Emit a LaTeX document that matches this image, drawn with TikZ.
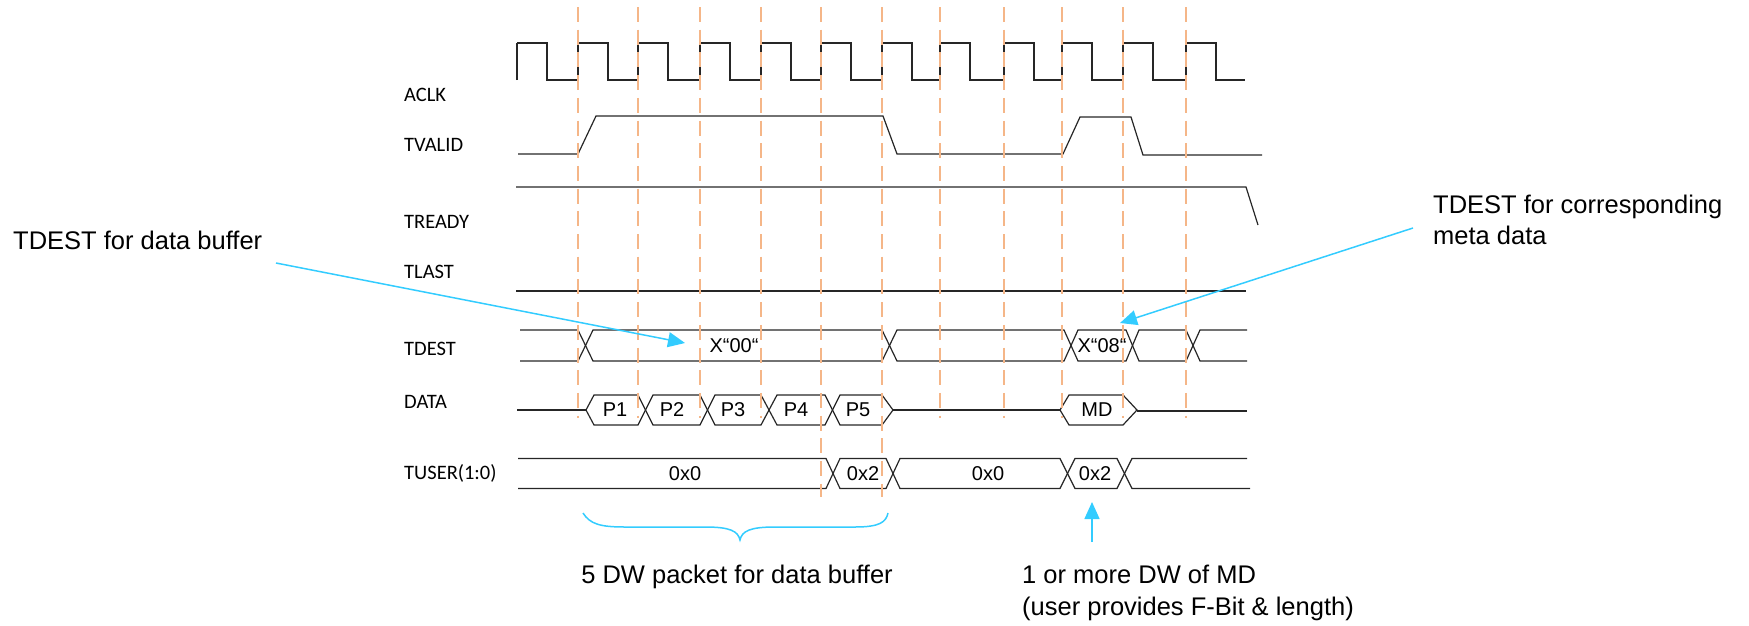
\documentclass[tikz,border=0pt]{standalone}
\usepackage{fontspec}
\setmainfont{Liberation Sans}
\newfontfamily\calfont{Carlito}
\usetikzlibrary{arrows.meta}
\definecolor{guide}{RGB}{245,182,136}
\definecolor{anno}{RGB}{51,204,255}
\begin{document}
\begin{tikzpicture}[x=1pt,y=-1pt,
  wave/.style={line width=1.2pt, black!85, line join=miter},
  guideline/.style={guide, line width=1.8pt, dash pattern=on 15pt off 7.7pt},
  siglabel/.style={font=\calfont\fontsize{20.5}{24}\selectfont, anchor=west, inner sep=0pt},
  vallabel/.style={font=\fontsize{20}{23}\selectfont, inner sep=0pt},
  annotext/.style={font=\fontsize{25.5}{31.5}\selectfont, inner sep=0pt, align=left},
  annoline/.style={anno, line width=1.5pt, -{Triangle[length=17pt,width=15pt]}},
]
\useasboundingbox (0,0) rectangle (1749,625);

% signal names
\node[siglabel] (lclk) at (404,95) {ACLK};
\node[siglabel] (lvalid) at (404,145) {TVALID};
\node[siglabel] (lready) at (404,221.5) {TREADY};
\node[siglabel] (llast) at (404,271.5) {TLAST};
\node[siglabel] (ldest) at (404,349) {TDEST};
\node[siglabel] (ldata) at (404,402) {DATA};
\node[siglabel] (luser) at (404,473) {TUSER(1:0)};

% ACLK
\draw[wave] (517,80) -- (517,43);
\foreach \r/\n in {517/578,578/638,638/700,700/761,761/821,821/882,882/940,940/1004,1004/1062,1062/1123,1123/1186,1186/1245}{
  \draw[wave] (\r,43) -- ({\r+30},43) -- ({\r+30},80) -- (\n,80);
}
\foreach \n in {578,638,700,761,821,882,940,1004,1062,1123,1186}{
  \draw[wave] (\n,80) -- (\n,43);
}

% TVALID
\draw[wave] (518,154) -- (578,154) -- (596,116) -- (883,116) -- (897,154) -- (1063,154) -- (1080,117) -- (1131,117) -- (1143,155) -- (1262,155);

% TREADY
\draw[wave] (516,187) -- (1246,187) -- (1258,225);

% TLAST
\draw[wave] (516,291) -- (1246,291);

% TDEST
\draw[wave] (520,330) -- (578,330) -- (593,361) -- (882,361) -- (897,330) -- (1064,330) -- (1078,361) -- (1126,361) -- (1139,330) -- (1186,330) -- (1200,361) -- (1247,361);
\draw[wave] (520,361) -- (578,361) -- (593,330) -- (882,330) -- (897,361) -- (1064,361) -- (1078,330) -- (1126,330) -- (1139,361) -- (1186,361) -- (1200,330) -- (1247,330);
\node[vallabel] (d00) at (734,346) {X“00“};
\node[vallabel] (d08) at (1102,346) {X“08“};

% DATA
\draw[wave] (517,410) -- (586,410);
\draw[wave] (586,410) -- (594,395) -- (638,395) -- (653,425) -- (700,425) -- (715,395) -- (761,395) -- (777,425) -- (825,425) -- (840,395) -- (882,395) -- (893,410);
\draw[wave] (586,410) -- (594,425) -- (638,425) -- (653,395) -- (700,395) -- (715,425) -- (761,425) -- (777,395) -- (825,395) -- (840,425) -- (882,425) -- (893,410);
\draw[wave] (893,410) -- (1060,410);
\draw[wave] (1060,410) -- (1069,395) -- (1123,395) -- (1137,410) -- (1123,425) -- (1069,425) -- cycle;
\draw[wave] (1137,411) -- (1247,411);
\node[vallabel] (p1) at (615,410) {P1};
\node[vallabel] (p2) at (672,410) {P2};
\node[vallabel] (p3) at (733,410) {P3};
\node[vallabel] (p4) at (796,410) {P4};
\node[vallabel] (p5) at (858,410) {P5};
\node[vallabel] (md) at (1097,410) {MD};

% TUSER
\draw[wave] (518,458.5) -- (826,458.5) -- (840,488.5) -- (886,488.5) -- (900,458.5) -- (1060,458.5) -- (1075,488.5) -- (1117,488.5) -- (1132,458.5) -- (1247,458.5);
\draw[wave] (518,488.5) -- (826,488.5) -- (840,458.5) -- (886,458.5) -- (900,488.5) -- (1060,488.5) -- (1075,458.5) -- (1117,458.5) -- (1132,488.5) -- (1250,488.5);
\node[vallabel] (u1) at (685,474) {0x0};
\node[vallabel] (u2) at (863,474) {0x2};
\node[vallabel] (u3) at (988,474) {0x0};
\node[vallabel] (u4) at (1095,474) {0x2};

% clock guides
\foreach \g in {578,638,700,761,940,1004,1062,1123,1186}{
  \draw[guideline] (\g,7) -- (\g,418);
}
\foreach \g in {821,882}{
  \draw[guideline] (\g,7) -- (\g,497);
}

% brace
\draw[anno, line width=1.5pt] (583,513) .. controls (590,524) and (600,527) .. (625,527) -- (705,527) .. controls (730,527) and (738,531) .. (740,540) .. controls (742,531) and (750,527) .. (775,527) -- (855,527) .. controls (880,527) and (886,522) .. (888,513);
\node[annotext] (tpkt) at (737,577) {5 DW packet for data buffer};

% annotations
\node[annotext, anchor=west] (tbuf) at (13,240) {TDEST for data buffer};
\coordinate (abufs) at (276,263);
\coordinate (abufe) at (685,343);
\draw[annoline] (abufs) -- (abufe);

\node[annotext, anchor=west] (tmeta) at (1433,220) {TDEST for corresponding\\meta data};
\coordinate (ametas) at (1413,228);
\coordinate (ametae) at (1120,323);
\draw[annoline] (ametas) -- (ametae);

\node[annotext, anchor=west] (tmd) at (1022,593) {1 or more DW of MD\\(user provides F-Bit \& length)};
\coordinate (amds) at (1092,542);
\coordinate (amde) at (1092,502);
\draw[annoline] (amds) -- (amde);
\end{tikzpicture}
\end{document}
